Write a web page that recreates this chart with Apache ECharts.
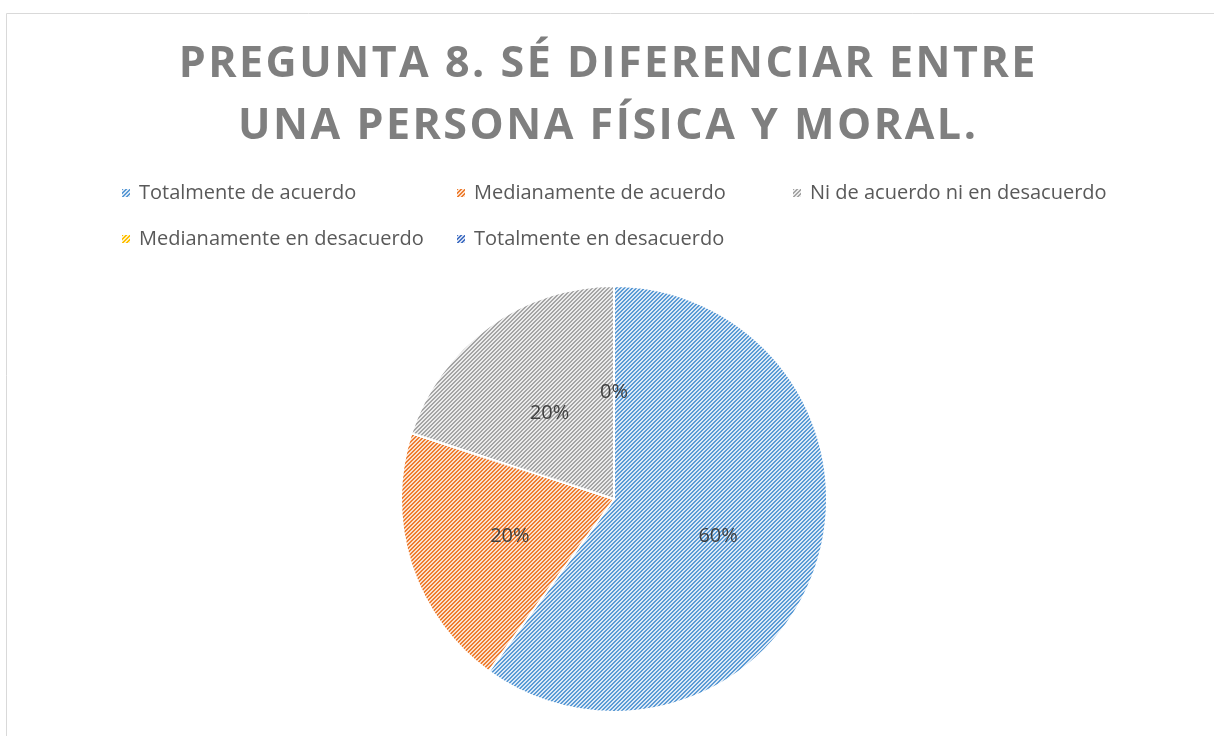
<!DOCTYPE html>
<html>
<head>
<meta charset="utf-8">
<script src="https://cdn.jsdelivr.net/npm/echarts@6/dist/echarts.min.js"></script>
<style>
   html, body { margin: 0; padding: 0; background: #fff; }
   #chart { width: 1214px; height: 736px; }
</style>
</head>
<body>
<div id="chart"></div>
<script>
const categories = [
   'Totalmente de acuerdo',
   'Medianamente de acuerdo',
   'Ni de acuerdo ni en desacuerdo',
   'Medianamente en desacuerdo',
   'Totalmente en desacuerdo'
]
const values = [60, 20, 20, 0, 0]
const titleLines = ['PREGUNTA 8. SÉ DIFERENCIAR ENTRE', 'UNA PERSONA FÍSICA Y MORAL.']

// colores de Office: trazo y fondo claro del rayado
const strokeColors = ['#5b9bd5', '#ed7d31', '#a5a5a5', '#ffc000', '#4472c4']
const backColors = ['#dde9f6', '#fbe0cd', '#ececec', '#fff1c6', '#d6def1']

// rayado diagonal "/" de 2px cada 4px, en un canvas de 4x4
function hatch(stroke, back) {
   const c = document.createElement('canvas')
   c.width = 4
   c.height = 4
   const ctx = c.getContext('2d')
   ctx.fillStyle = back
   ctx.fillRect(0, 0, 4, 4)
   ctx.fillStyle = stroke
   for (let x = 0; x < 4; x++) {
      for (let y = 0; y < 4; y++) {
         const d = (x + y) % 4
         if (d === 3 || d === 0) ctx.fillRect(x, y, 1, 1)
      }
   }
   return c
}

// el titulo va letra a letra para poder espaciar los caracteres
const spaced = line => Array.from(line).map(ch => '{c|' + ch + '}').join('')

const chart = echarts.init(document.getElementById('chart'))

const pieData = categories.map((name, i) => ({
   name: name,
   value: values[i],
   itemStyle: {
      color: { image: hatch(strokeColors[i], backColors[i]), repeat: 'repeat' }
   }
}))

// posiciones de la leyenda (dos filas, como en Excel)
const legendPos = [[122, 183], [457, 183], [793, 183], [122, 229], [457, 229]]
const legends = categories.map((name, i) => ({
   data: [name],
   left: legendPos[i][0],
   top: legendPos[i][1],
   padding: 0,
   icon: 'rect',
   itemWidth: 8,
   itemHeight: 8,
   itemStyle: { borderWidth: 0 },
   selectedMode: false,
   textStyle: {
      fontFamily: 'Open Sans',
      fontSize: 20,
      color: '#595959',
      padding: [0, 0, 0, 4]
   }
}))

chart.setOption({
   animation: false,
   title: {
      text: titleLines.map(spaced).join('\n'),
      left: 'center',
      top: 34,
      padding: [0, 0, 0, 18],
      textStyle: {
         rich: {
            c: {
               fontFamily: 'Open Sans',
               fontWeight: 'bold',
               fontSize: 43,
               lineHeight: 62,
               color: '#7f7f7f',
               padding: [0, 1.25, 0, 1.25]
            }
         }
      }
   },
   legend: legends,
   graphic: [{
      type: 'rect',
      shape: { x: 6.5, y: 13.5, width: 1400, height: 900 },
      style: { fill: 'none', stroke: '#d9d9d9', lineWidth: 1 },
      silent: true
   }],
   series: [{
      type: 'pie',
      center: [614, 499],
      radius: 213,
      startAngle: 90,
      clockwise: true,
      data: pieData,
      itemStyle: { borderColor: '#fff', borderWidth: 2 },
      label: {
         position: 'inside',
         offset: [0, 3],
         fontFamily: 'Open Sans',
         fontSize: 20,
         color: '#404040',
         formatter: p => Math.round(p.percent) + '%'
      },
      labelLine: { show: false },
      emphasis: { disabled: true }
   }]
})
</script>
</body>
</html>
